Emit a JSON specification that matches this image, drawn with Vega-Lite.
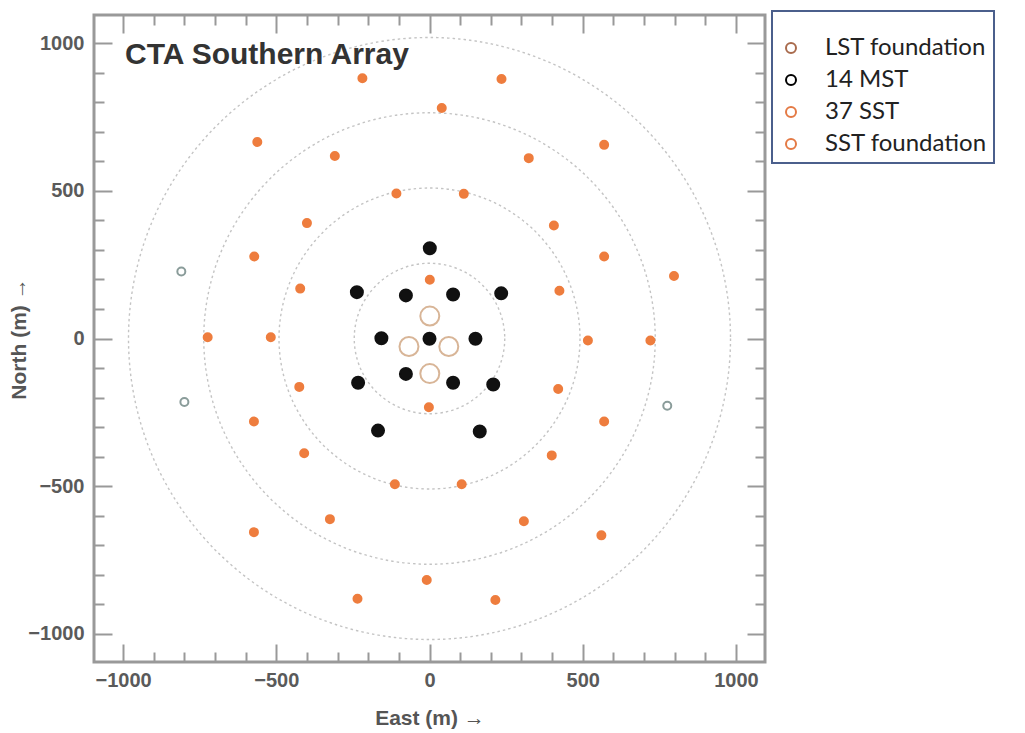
{
  "$schema": "https://vega.github.io/schema/vega-lite/v6.json",
  "autosize": {"type": "none"},
  "width": 671,
  "height": 647,
  "padding": {"left": 94, "top": 15, "right": 260, "bottom": 71},
  "background": "white",
  "title": {"text": "CTA Southern Array", "frame": "group", "anchor": "start", "orient": "top", "dx": 31, "offset": -84, "baseline": "alphabetic", "font": "Liberation Sans", "fontSize": 30, "fontWeight": "bold", "color": "#333333"},
  "datasets": {
    "rings": [{"r": 250}, {"r": 500}, {"r": 750}, {"r": 1000}],
    "stations": [
      {"type": "LST foundation", "x": 1, "y": 76},
      {"type": "LST foundation", "x": -67, "y": -27},
      {"type": "LST foundation", "x": 63, "y": -27},
      {"type": "LST foundation", "x": 1, "y": -119},
      {"type": "14 MST", "x": 1, "y": 306},
      {"type": "14 MST", "x": -237, "y": 157},
      {"type": "14 MST", "x": -77, "y": 146},
      {"type": "14 MST", "x": 77, "y": 149},
      {"type": "14 MST", "x": 234, "y": 153},
      {"type": "14 MST", "x": -157, "y": 1},
      {"type": "14 MST", "x": 0, "y": -1},
      {"type": "14 MST", "x": 150, "y": -1},
      {"type": "14 MST", "x": -233, "y": -150},
      {"type": "14 MST", "x": -77, "y": -120},
      {"type": "14 MST", "x": 77, "y": -150},
      {"type": "14 MST", "x": 208, "y": -156},
      {"type": "14 MST", "x": -168, "y": -312},
      {"type": "14 MST", "x": 164, "y": -315},
      {"type": "37 SST", "x": -219, "y": 882},
      {"type": "37 SST", "x": 235, "y": 879},
      {"type": "37 SST", "x": 40, "y": 781},
      {"type": "37 SST", "x": -562, "y": 666},
      {"type": "37 SST", "x": 570, "y": 656},
      {"type": "37 SST", "x": -309, "y": 618},
      {"type": "37 SST", "x": 324, "y": 611},
      {"type": "37 SST", "x": -108, "y": 491},
      {"type": "37 SST", "x": 112, "y": 490},
      {"type": "37 SST", "x": -400, "y": 391},
      {"type": "37 SST", "x": 406, "y": 383},
      {"type": "37 SST", "x": -572, "y": 278},
      {"type": "37 SST", "x": 570, "y": 278},
      {"type": "37 SST", "x": 798, "y": 212},
      {"type": "37 SST", "x": 1, "y": 199},
      {"type": "37 SST", "x": -422, "y": 169},
      {"type": "37 SST", "x": 424, "y": 162},
      {"type": "37 SST", "x": -724, "y": 4},
      {"type": "37 SST", "x": -518, "y": 4},
      {"type": "37 SST", "x": 517, "y": -7},
      {"type": "37 SST", "x": 721, "y": -7},
      {"type": "37 SST", "x": -425, "y": -164},
      {"type": "37 SST", "x": 420, "y": -171},
      {"type": "37 SST", "x": -2, "y": -233},
      {"type": "37 SST", "x": -573, "y": -281},
      {"type": "37 SST", "x": 570, "y": -281},
      {"type": "37 SST", "x": -409, "y": -389},
      {"type": "37 SST", "x": 399, "y": -396},
      {"type": "37 SST", "x": -113, "y": -494},
      {"type": "37 SST", "x": 105, "y": -494},
      {"type": "37 SST", "x": -325, "y": -612},
      {"type": "37 SST", "x": 308, "y": -619},
      {"type": "37 SST", "x": -573, "y": -656},
      {"type": "37 SST", "x": 561, "y": -667},
      {"type": "37 SST", "x": -9, "y": -818},
      {"type": "37 SST", "x": -235, "y": -882},
      {"type": "37 SST", "x": 215, "y": -886},
      {"type": "SST foundation", "x": -810, "y": 227},
      {"type": "SST foundation", "x": -800, "y": -215},
      {"type": "SST foundation", "x": 776, "y": -228}
    ]
  },
  "config": {
    "view": {"stroke": "#999999", "strokeWidth": 3},
    "axis": {
      "domain": false,
      "grid": false,
      "tickColor": "#999999",
      "tickWidth": 2,
      "labelFont": "Liberation Sans",
      "labelFontSize": 20,
      "labelFontWeight": "bold",
      "labelColor": "#5a5a5a",
      "titleFont": "Liberation Sans",
      "titleFontSize": 21,
      "titleFontWeight": "bold",
      "titleColor": "#555555",
      "labelOverlap": false,
      "labelFlush": false,
      "labelBound": false
    },
    "legend": {"strokeWidth": 2}
  },
  "layer": [
    {
      "data": {"name": "rings"},
      "mark": {"type": "point", "shape": "circle", "filled": false, "stroke": "#c4c4c4", "strokeWidth": 1.4, "strokeDash": [2.5, 3], "opacity": 1},
      "encoding": {
        "x": {"datum": 0, "type": "quantitative", "scale": {"domain": [-1095, 1095], "nice": false, "zero": false},
          "axis": {"orient": "top", "title": null, "labels": false, "values": [-1000, -900, -800, -700, -600, -500, -400, -300, -200, -100, 0, 100, 200, 300, 400, 500, 600, 700, 800, 900, 1000],
            "tickSize": {"condition": {"test": "datum.value % 500 === 0", "value": -18}, "value": -10}}},
        "y": {"datum": 0, "type": "quantitative", "scale": {"domain": [-1096, 1096], "nice": false, "zero": false},
          "axis": {"orient": "right", "title": null, "labels": false, "values": [-1000, -900, -800, -700, -600, -500, -400, -300, -200, -100, 0, 100, 200, 300, 400, 500, 600, 700, 800, 900, 1000],
            "tickSize": {"condition": {"test": "datum.value % 500 === 0", "value": -18}, "value": -10}}},
        "size": {"field": "r", "type": "quantitative", "scale": {"type": "pow", "exponent": 2, "domain": [0, 1000], "range": [0, 362404]}, "legend": null}
      }
    },
    {
      "data": {"name": "stations"},
      "mark": {"type": "point", "shape": "circle", "filled": true, "strokeWidth": 2, "opacity": 1},
      "encoding": {
        "x": {"field": "x", "type": "quantitative", "scale": {"domain": [-1095, 1095], "nice": false, "zero": false},
          "axis": {"orient": "bottom", "title": "East (m) →", "format": "d", "values": [-1000, -900, -800, -700, -600, -500, -400, -300, -200, -100, 0, 100, 200, 300, 400, 500, 600, 700, 800, 900, 1000],
            "labelExpr": "datum.value % 500 === 0 ? datum.label : ''",
            "tickSize": {"condition": {"test": "datum.value % 500 === 0", "value": -18}, "value": -10},
            "labelPadding": 26, "titlePadding": 9}},
        "y": {"field": "y", "type": "quantitative", "scale": {"domain": [-1096, 1096], "nice": false, "zero": false},
          "axis": {"orient": "left", "title": "North (m) →", "format": "d", "values": [-1000, -900, -800, -700, -600, -500, -400, -300, -200, -100, 0, 100, 200, 300, 400, 500, 600, 700, 800, 900, 1000],
            "labelExpr": "datum.value % 500 === 0 ? datum.label : ''",
            "tickSize": {"condition": {"test": "datum.value % 500 === 0", "value": -18}, "value": -10},
            "labelPadding": 28, "titlePadding": -2}},
        "stroke": {"field": "type", "type": "nominal", "scale": {"domain": ["LST foundation", "14 MST", "37 SST", "SST foundation"], "range": ["#d8b597", "#111111", "#ee7d3e", "#8a9c9a"]}, "legend": null},
        "fill": {"field": "type", "type": "nominal", "scale": {"domain": ["LST foundation", "14 MST", "37 SST", "SST foundation"], "range": ["transparent", "#111111", "#ee7d3e", "transparent"]}, "legend": null},
        "size": {"field": "type", "type": "nominal", "scale": {"type": "ordinal", "domain": ["LST foundation", "14 MST", "37 SST", "SST foundation"], "range": [361, 144, 64, 64]}, "legend": null}
      }
    },
    {
      "data": {"name": "stations"},
      "mark": {"type": "point", "shape": "circle", "filled": false, "strokeWidth": 2, "opacity": 0},
      "encoding": {
        "x": {"field": "x", "type": "quantitative", "axis": null},
        "y": {"field": "y", "type": "quantitative", "axis": null},
        "stroke": {"field": "type", "type": "nominal", "scale": {"domain": ["LST foundation", "14 MST", "37 SST", "SST foundation"], "range": ["#a96b4d", "#000000", "#e47a45", "#e47a45"]},
          "legend": {"orient": "none", "legendX": 678, "legendY": -4, "title": " ", "titleFont": "Liberation Sans", "titleFontSize": 18, "titlePadding": 0, "padding": 7, "strokeColor": "#4b5f8c", "fillColor": "white", "cornerRadius": 0,
            "labelFont": "Lato", "labelFontSize": 24, "labelColor": "#222222", "labelOffset": 22, "rowPadding": 8, "symbolStrokeWidth": 2, "symbolOpacity": 1, "symbolType": "circle", "labelLimit": 400,
            "encode": {"symbols": {
              "fill": {"value": {"expr": "datum.value === '14 MST' ? '#000000' : datum.value === '37 SST' ? '#e47a45' : 'transparent'"}},
              "size": {"value": {"expr": "datum.value === 'LST foundation' ? 150 : datum.value === 'SST foundation' ? 70 : 80"}}
            }}}}
      }
    }
  ],
  "resolve": {
    "scale": {"size": "independent", "fill": "independent", "stroke": "independent"},
    "axis": {"x": "independent", "y": "independent"}
  }
}
